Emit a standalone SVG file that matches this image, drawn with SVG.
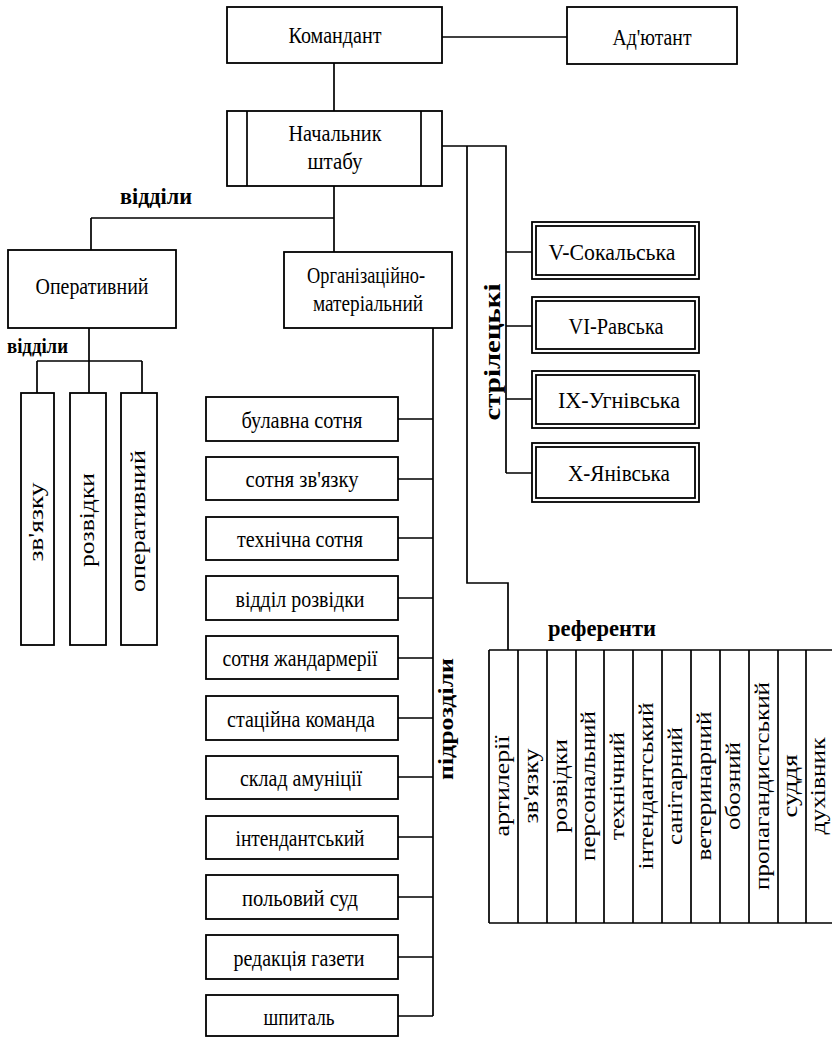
<svg xmlns="http://www.w3.org/2000/svg" width="832" height="1038" viewBox="0 0 832 1038" font-family="'Liberation Serif', serif">
<style>
.b{fill:#fff;stroke:#000;stroke-width:1.8}
.l{fill:none;stroke:#000;stroke-width:1.7}
text{font-family:"Liberation Serif","DejaVu Serif",serif;fill:#000}
.t{font-size:24px;text-anchor:middle}
.r{font-size:21px;text-anchor:middle}
.q{font-size:20px;text-anchor:middle}
.h{font-weight:bold}
</style>
<rect width="832" height="1038" fill="#fff"/>
<g id="connectors" class="l">
<path d="M442 37H567"/>
<path d="M334 63V111"/>
<path d="M334 186V252M91 218H334M91 218V250"/>
<path d="M442 146H506V473M467 146V583H508V650"/>
<path d="M506 252H532M506 326H532M506 399H532M506 473H532"/>
<path d="M89 328V393M37 361H142M37 361V393M142 361V393"/>
<path d="M433 328V1016M398 419H433M398 479H433M398 538H433M398 598H433M398 658H433M398 718H433M398 777H433M398 837H433M398 897H433M398 957H433M398 1016H433"/>
</g>
<g id="komandant"><rect class="b" x="227" y="7" width="215" height="56"/><text class="t" x="335" y="43" textLength="93" lengthAdjust="spacingAndGlyphs">Командант</text></g>
<g id="adjutant"><rect class="b" x="567" y="7" width="170" height="57"/><text class="t" x="652" y="45" textLength="79" lengthAdjust="spacingAndGlyphs">Ад'ютант</text></g>
<g id="nachalnyk"><rect class="b" x="227" y="111" width="215" height="75"/><path class="l" d="M247 111V186M421 111V186"/>
<text class="t" x="335" y="141" textLength="93" lengthAdjust="spacingAndGlyphs">Начальник</text>
<text class="t" x="335" y="169" textLength="55" lengthAdjust="spacingAndGlyphs">штабу</text></g>
<g id="label-viddily"><text class="h" x="120" y="204" font-size="24" textLength="72" lengthAdjust="spacingAndGlyphs">відділи</text></g>
<g id="operatyvnyi"><rect class="b" x="8" y="250" width="168" height="78"/><text class="t" x="92" y="294" textLength="113" lengthAdjust="spacingAndGlyphs">Оперативний</text></g>
<g id="org-mat"><rect class="b" x="284" y="252" width="168" height="76"/>
<text class="t" x="366" y="283" textLength="118" lengthAdjust="spacingAndGlyphs">Організаційно-</text>
<text class="t" x="368" y="311" textLength="110" lengthAdjust="spacingAndGlyphs">матеріальний</text></g>
<g id="label-viddily2"><text class="h" x="7" y="353" font-size="20" textLength="61" lengthAdjust="spacingAndGlyphs">відділи</text></g>
<g id="op-zviazku"><rect class="b" x="21" y="393" width="33" height="252"/><text class="r" transform="translate(43 522) rotate(-90)" textLength="79" lengthAdjust="spacingAndGlyphs">зв'язку</text></g>
<g id="op-rozvidky"><rect class="b" x="70" y="393" width="36" height="252"/><text class="r" transform="translate(94 520) rotate(-90)" textLength="94" lengthAdjust="spacingAndGlyphs">розвідки</text></g>
<g id="op-operatyvnyi"><rect class="b" x="121" y="393" width="36" height="252"/><text class="r" transform="translate(145 521) rotate(-90)" textLength="142" lengthAdjust="spacingAndGlyphs">оперативний</text></g>
<g id="kurin-5"><rect class="b" x="532" y="222" width="167" height="57"/><rect class="b" x="536" y="226" width="159" height="49"/><text class="t" x="612" y="260" textLength="127" lengthAdjust="spacingAndGlyphs">V-Сокальська</text></g>
<g id="kurin-6"><rect class="b" x="532" y="297" width="167" height="56"/><rect class="b" x="536" y="301" width="159" height="48"/><text class="t" x="616" y="334" textLength="95" lengthAdjust="spacingAndGlyphs">VI-Равська</text></g>
<g id="kurin-9"><rect class="b" x="532" y="371" width="167" height="57"/><rect class="b" x="536" y="375" width="159" height="49"/><text class="t" x="619" y="408" textLength="122" lengthAdjust="spacingAndGlyphs">IX-Угнівська</text></g>
<g id="kurin-10"><rect class="b" x="532" y="443" width="167" height="59"/><rect class="b" x="536" y="447" width="159" height="51"/><text class="t" x="619" y="481" textLength="102" lengthAdjust="spacingAndGlyphs">X-Янівська</text></g>
<g id="label-strilecki"><text class="h" font-size="23" text-anchor="middle" transform="translate(500 352) rotate(-90)" textLength="137" lengthAdjust="spacingAndGlyphs">стрілецькі</text></g>
<g id="label-pidrozdily"><text class="h" font-size="22" text-anchor="middle" transform="translate(453 719) rotate(-90)" textLength="122" lengthAdjust="spacingAndGlyphs">підрозділи</text></g>
<g id="sub-1"><rect class="b" x="206" y="397" width="192" height="44"/><text class="t" x="302" y="428" textLength="121" lengthAdjust="spacingAndGlyphs">булавна сотня</text></g>
<g id="sub-2"><rect class="b" x="206" y="457" width="192" height="43"/><text class="t" x="302" y="487" textLength="113" lengthAdjust="spacingAndGlyphs">сотня зв'язку</text></g>
<g id="sub-3"><rect class="b" x="206" y="517" width="192" height="43"/><text class="t" x="300" y="547" textLength="126" lengthAdjust="spacingAndGlyphs">технічна сотня</text></g>
<g id="sub-4"><rect class="b" x="206" y="576" width="192" height="44"/><text class="t" x="300" y="607" textLength="129" lengthAdjust="spacingAndGlyphs">відділ розвідки</text></g>
<g id="sub-5"><rect class="b" x="206" y="636" width="192" height="43"/><text class="t" x="300" y="666" textLength="155" lengthAdjust="spacingAndGlyphs">сотня жандармерії</text></g>
<g id="sub-6"><rect class="b" x="206" y="696" width="192" height="44"/><text class="t" x="301" y="727" textLength="148" lengthAdjust="spacingAndGlyphs">стаційна команда</text></g>
<g id="sub-7"><rect class="b" x="206" y="756" width="192" height="43"/><text class="t" x="301" y="786" textLength="122" lengthAdjust="spacingAndGlyphs">склад амуніції</text></g>
<g id="sub-8"><rect class="b" x="206" y="816" width="192" height="43"/><text class="t" x="300" y="846" textLength="129" lengthAdjust="spacingAndGlyphs">інтендантський</text></g>
<g id="sub-9"><rect class="b" x="206" y="875" width="192" height="44"/><text class="t" x="300" y="906" textLength="116" lengthAdjust="spacingAndGlyphs">польовий суд</text></g>
<g id="sub-10"><rect class="b" x="206" y="935" width="192" height="44"/><text class="t" x="299" y="966" textLength="131" lengthAdjust="spacingAndGlyphs">редакція газети</text></g>
<g id="sub-11"><rect class="b" x="206" y="995" width="192" height="41"/><text class="t" x="299" y="1025" textLength="71" lengthAdjust="spacingAndGlyphs">шпиталь</text></g>
<g id="label-referenty"><text class="h" x="548" y="636" font-size="24" textLength="108" lengthAdjust="spacingAndGlyphs">референти</text></g>
<g id="referenty">
<path class="l" d="M489 650H832M489 923H832M489 650V923M518 650V923M547 650V923M576 650V923M604 650V923M633 650V923M662 650V923M691 650V923M720 650V923M749 650V923M778 650V923M806 650V923"/>
<text class="q" transform="translate(509 786) rotate(-90)" textLength="101" lengthAdjust="spacingAndGlyphs">артилерії</text>
<text class="q" transform="translate(538 786) rotate(-90)" textLength="75" lengthAdjust="spacingAndGlyphs">зв'язку</text>
<text class="q" transform="translate(567 786) rotate(-90)" textLength="94" lengthAdjust="spacingAndGlyphs">розвідки</text>
<text class="q" transform="translate(595 786) rotate(-90)" textLength="150" lengthAdjust="spacingAndGlyphs">персональний</text>
<text class="q" transform="translate(624 786) rotate(-90)" textLength="108" lengthAdjust="spacingAndGlyphs">технічний</text>
<text class="q" transform="translate(653 786) rotate(-90)" textLength="167" lengthAdjust="spacingAndGlyphs">інтендантський</text>
<text class="q" transform="translate(682 786) rotate(-90)" textLength="118" lengthAdjust="spacingAndGlyphs">санітарний</text>
<text class="q" transform="translate(711 786) rotate(-90)" textLength="149" lengthAdjust="spacingAndGlyphs">ветеринарний</text>
<text class="q" transform="translate(740 786) rotate(-90)" textLength="88" lengthAdjust="spacingAndGlyphs">обозний</text>
<text class="q" transform="translate(769 786) rotate(-90)" textLength="208" lengthAdjust="spacingAndGlyphs">пропагандистський</text>
<text class="q" transform="translate(797 786) rotate(-90)" textLength="63" lengthAdjust="spacingAndGlyphs">суддя</text>
<text class="q" transform="translate(825 786) rotate(-90)" textLength="97" lengthAdjust="spacingAndGlyphs">духівник</text>
</g>
</svg>
